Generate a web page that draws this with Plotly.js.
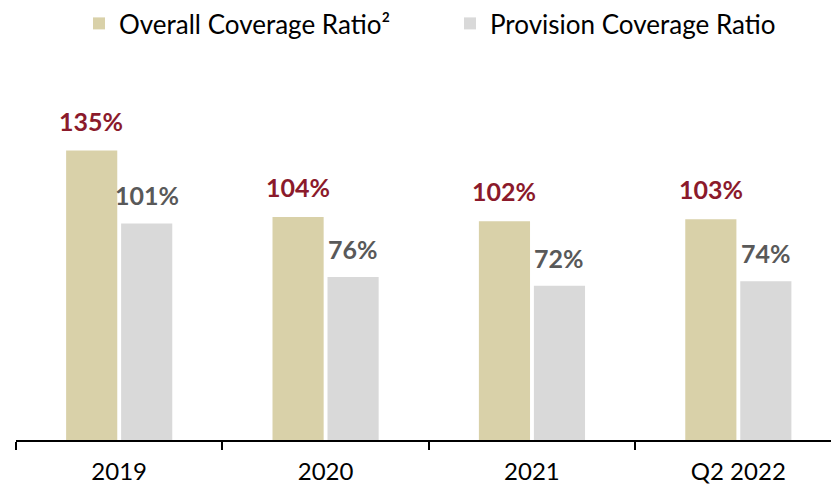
<!DOCTYPE html>
<html>
<head>
<meta charset="utf-8">
<script src="https://cdn.plot.ly/plotly-3.0.1.min.js"></script>
<style>html,body{margin:0;padding:0;background:#fff;}#chart{width:831px;height:486px;}</style>
</head>
<body>
<div id="chart"></div>
<script>
const categories = ['2019', '2020', '2021', 'Q2 2022'];
const overallCoverage = [135, 104, 102, 103];
const provisionCoverage = [101, 76, 72, 74];
const seriesNames = ['Overall Coverage Ratio²', 'Provision Coverage Ratio'];

const FONT = 'Lato, "Open Sans", sans-serif';
const overallColor = '#d9d1a9';
const provisionColor = '#d9d9d9';
const overallLabelColor = '#8b1a2b';
const provisionLabelColor = '#595959';

const traces = [
  {type: 'bar', name: seriesNames[0], x: categories, y: overallCoverage,
   marker: {color: overallColor}, hoverinfo: 'none', legend: 'legend'},
  {type: 'bar', name: seriesNames[1], x: categories, y: provisionCoverage,
   marker: {color: provisionColor}, hoverinfo: 'none', legend: 'legend2'}
];

const annotations = [];
categories.forEach((c, i) => {
  annotations.push({x: i, y: overallCoverage[i], xref: 'x', yref: 'y', text: overallCoverage[i] + '%',
    showarrow: false, xanchor: 'center', yanchor: 'middle', xshift: -27.75, yshift: 30,
    font: {family: FONT, size: 25, color: overallLabelColor, weight: 'bold'}});
  annotations.push({x: i, y: provisionCoverage[i], xref: 'x', yref: 'y', text: provisionCoverage[i] + '%',
    showarrow: false, xanchor: 'center', yanchor: 'middle', xshift: 27.5, yshift: 28,
    font: {family: FONT, size: 25, color: provisionLabelColor, weight: 'bold'}});
});

const legendBase = {orientation: 'h', xref: 'container', yref: 'container', xanchor: 'left', y: 1, yanchor: 'top',
  font: {family: FONT, size: 26, color: '#000'}, bgcolor: 'rgba(0,0,0,0)',
  itemclick: false, itemdoubleclick: false};

const layout = {
  width: 831, height: 486,
  margin: {l: 15.5, r: 0, t: 96.5, b: 46},
  paper_bgcolor: '#fff', plot_bgcolor: '#fff',
  barmode: 'group', bargap: 0.467, bargroupgap: 0.07,
  font: {family: FONT, color: '#000'},
  showlegend: true,
  legend: Object.assign({}, legendBase, {x: 79/831}),
  legend2: Object.assign({}, legendBase, {x: 450/831}),
  xaxis: {type: 'category', range: [-0.5, 3.449], showline: true, linecolor: '#000', linewidth: 2,
    ticks: 'outside', tickson: 'boundaries', ticklen: 8, tickwidth: 2, tickcolor: '#000',
    ticklabelstandoff: 9,
    showgrid: false, zeroline: false, fixedrange: true,
    tickfont: {family: FONT, size: 24, color: '#000'}},
  yaxis: {range: [0, 160], visible: false, showgrid: false, zeroline: false, fixedrange: true},
  annotations: annotations
};

Plotly.newPlot('chart', traces, layout, {displayModeBar: false, staticPlot: true});
</script>
</body>
</html>
